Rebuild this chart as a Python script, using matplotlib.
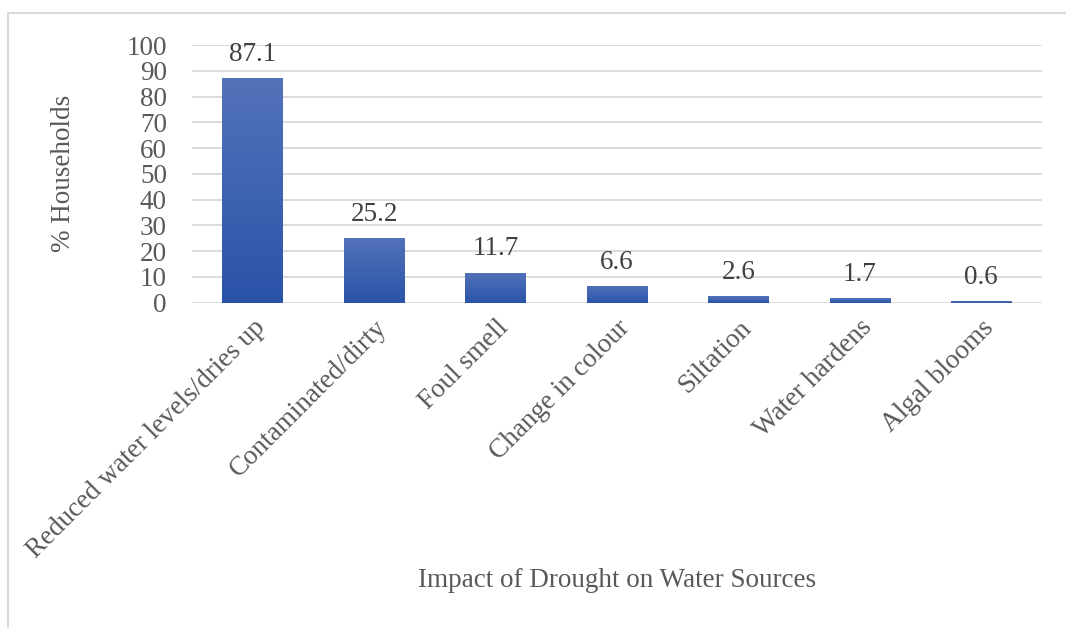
"""Bar chart: impact of drought on water sources (% of households)."""

import matplotlib

matplotlib.use("Agg")

import matplotlib.pyplot as plt  # noqa: E402
import numpy as np  # noqa: E402
from matplotlib.colors import LinearSegmentedColormap  # noqa: E402
from matplotlib.lines import Line2D  # noqa: E402


CATEGORIES = [
    "Reduced water levels/dries up",
    "Contaminated/dirty",
    "Foul smell",
    "Change in colour",
    "Siltation",
    "Water hardens",
    "Algal blooms",
]
PERCENT_HOUSEHOLDS = [87.1, 25.2, 11.7, 6.6, 2.6, 1.7, 0.6]
Y_TICKS = [0, 10, 20, 30, 40, 50, 60, 70, 80, 90, 100]

TEXT_COLOR = "#595959"
LABEL_COLOR = "#404040"
GRID_COLOR = "#d9d9d9"
BAR_TOP = "#5373b9"
BAR_BOTTOM = "#2953a8"
FONT_SIZE = 19.5

plt.rcParams["font.family"] = ["Liberation Serif", "DejaVu Serif"]
plt.rcParams["font.size"] = FONT_SIZE

fig = plt.figure(figsize=(10.66, 6.28), dpi=100)
ax = fig.add_axes([0.1801, 0.518, 0.7974, 0.4103])

x = np.arange(len(CATEGORIES))
bars = ax.bar(x, PERCENT_HOUSEHOLDS, width=0.5, color=BAR_BOTTOM, zorder=2)

# vertical gradient fill, clipped to each bar
cmap = LinearSegmentedColormap.from_list("bar_grad", [BAR_BOTTOM, BAR_TOP])
gradient = np.linspace(0, 1, 256).reshape(-1, 1)
for bar in bars:
    x0, y0 = bar.get_x(), bar.get_y()
    w, h = bar.get_width(), bar.get_height()
    img = ax.imshow(
        gradient,
        extent=(x0, x0 + w, y0, y0 + h),
        origin="lower",
        cmap=cmap,
        aspect="auto",
        zorder=3,
    )
    img.set_clip_path(bar)

for xi, value in zip(x, PERCENT_HOUSEHOLDS):
    ax.annotate(
        f"{value:.1f}",
        (xi, value),
        xytext=(0, 8),
        textcoords="offset points",
        ha="center",
        va="bottom",
        color=LABEL_COLOR,
        fontsize=FONT_SIZE,
    )

ax.set_xlim(-0.5, len(CATEGORIES) - 0.5)
ax.set_ylim(0, 100)
ax.set_yticks(Y_TICKS)
ax.set_yticklabels([str(t) for t in Y_TICKS], color=TEXT_COLOR)
ax.set_xticks(x)
ax.set_xticklabels(CATEGORIES, rotation=45, ha="right", color=TEXT_COLOR,
                   rotation_mode="anchor")
ax.tick_params(axis="both", length=0)
ax.tick_params(axis="y", pad=18)
ax.tick_params(axis="x", pad=9)
ax.grid(axis="y", color=GRID_COLOR, linewidth=1.3, zorder=0)
ax.set_axisbelow(True)
for spine in ax.spines.values():
    spine.set_visible(False)

ax.set_ylabel("% Households", color=TEXT_COLOR, fontsize=FONT_SIZE,
              labelpad=36)
fig.text(0.579, 0.076, "Impact of Drought on Water Sources",
         ha="center", va="center", color=TEXT_COLOR, fontsize=FONT_SIZE)

# thin frame along the top and left edges
fig.add_artist(Line2D([0.0075, 1.0], [0.979, 0.979], color="#d9d9d9",
                      linewidth=1.5, transform=fig.transFigure))
fig.add_artist(Line2D([0.0075, 0.0075], [0.0, 0.979], color="#d9d9d9",
                      linewidth=1.5, transform=fig.transFigure))

fig.savefig("out.png", dpi=100, facecolor="white")
